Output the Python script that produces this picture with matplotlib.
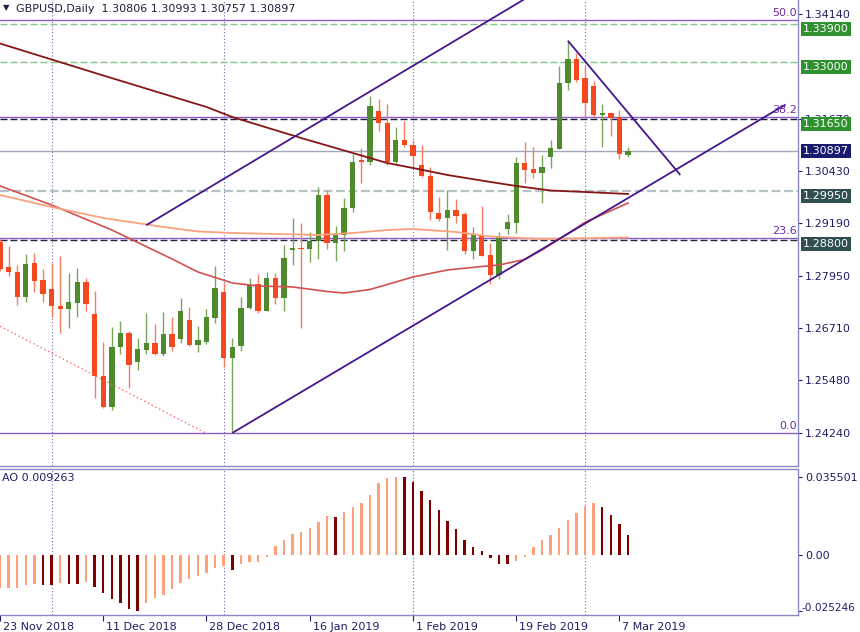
import matplotlib
matplotlib.use('Agg')
import matplotlib.pyplot as plt
import numpy as np
from matplotlib.transforms import blended_transform_factory, ScaledTranslation

# ---------------- data ----------------
opens = [1.2876, 1.2816, 1.2805, 1.2745, 1.2825, 1.2786, 1.2764, 1.2724, 1.2716, 1.2732,
         1.2781, 1.2705, 1.2559, 1.2486, 1.2626, 1.2660, 1.2592, 1.2620, 1.2636, 1.2611,
         1.2657, 1.2645, 1.2691, 1.2632, 1.2640, 1.2696, 1.2756, 1.2602, 1.2630, 1.2720,
         1.2775, 1.2713, 1.2790, 1.2744, 1.2857, 1.2861, 1.2858, 1.2878, 1.2986, 1.2874,
         1.2892, 1.2956, 1.3069, 1.3064, 1.3185, 1.3157, 1.3065, 1.3116, 1.3104, 1.3057,
         1.3032, 1.2943, 1.2931, 1.2952, 1.2941, 1.2854, 1.2892, 1.2845, 1.2797, 1.2905,
         1.2921, 1.3063, 1.3048, 1.3038, 1.3075, 1.3095, 1.3252, 1.3308, 1.3262, 1.3245,
         1.3175, 1.3181, 1.3170, 1.30806]
highs = [1.2882, 1.2866, 1.2821, 1.2847, 1.2850, 1.2811, 1.2826, 1.2842, 1.2801, 1.2813,
         1.2791, 1.2760, 1.2640, 1.2675, 1.2689, 1.2666, 1.2649, 1.2708, 1.2682, 1.2710,
         1.2699, 1.2742, 1.2722, 1.2677, 1.2716, 1.2819, 1.2778, 1.2648, 1.2746, 1.2790,
         1.2800, 1.2805, 1.2801, 1.2868, 1.2933, 1.2919, 1.2900, 1.3006, 1.2997, 1.2913,
         1.2979, 1.3083, 1.3097, 1.3220, 1.3213, 1.3201, 1.3148, 1.3162, 1.3116, 1.3105,
         1.3052, 1.2982, 1.2997, 1.2977, 1.2946, 1.2911, 1.2960, 1.2872, 1.2900, 1.2941,
         1.3075, 1.3112, 1.3099, 1.3081, 1.3116, 1.3290, 1.3351, 1.3323, 1.3290, 1.3256,
         1.3201, 1.3183, 1.3187, 1.30993]
lows = [1.2807, 1.2795, 1.2726, 1.2734, 1.2756, 1.2734, 1.2697, 1.2660, 1.2673, 1.2699,
        1.2711, 1.2507, 1.2483, 1.2478, 1.2611, 1.2530, 1.2573, 1.2611, 1.2608, 1.2606,
        1.2618, 1.2636, 1.2630, 1.2616, 1.2634, 1.2683, 1.2581, 1.2424, 1.2618, 1.2716,
        1.2708, 1.2711, 1.2729, 1.2711, 1.2821, 1.2671, 1.2829, 1.2834, 1.2858, 1.2830,
        1.2855, 1.2945, 1.3014, 1.3057, 1.3138, 1.3057, 1.3061, 1.3099, 1.3049, 1.3028,
        1.2927, 1.2926, 1.2856, 1.2921, 1.2847, 1.2834, 1.2842, 1.2776, 1.2787, 1.2893,
        1.2897, 1.3014, 1.3027, 1.2968, 1.3051, 1.3095, 1.3234, 1.3254, 1.3171, 1.3170,
        1.3099, 1.3126, 1.3071, 1.30757]
closes = [1.2811, 1.2805, 1.2745, 1.2823, 1.2783, 1.2752, 1.2724, 1.2716, 1.2734, 1.2781,
          1.2729, 1.2559, 1.2486, 1.2626, 1.2660, 1.2585, 1.2622, 1.2636, 1.2611, 1.2657,
          1.2628, 1.2711, 1.2632, 1.2643, 1.2697, 1.2767, 1.2602, 1.2626, 1.2719, 1.2774,
          1.2713, 1.2790, 1.2744, 1.2838, 1.2860, 1.2858, 1.2878, 1.2986, 1.2874, 1.2892,
          1.2955, 1.3065, 1.3065, 1.3197, 1.3157, 1.3065, 1.3116, 1.3104, 1.3079, 1.3031,
          1.2947, 1.2929, 1.2952, 1.2937, 1.2854, 1.2892, 1.2843, 1.2797, 1.2888, 1.2923,
          1.3061, 1.3045, 1.3038, 1.3052, 1.3097, 1.3252, 1.3308, 1.3258, 1.3203, 1.3175,
          1.3179, 1.3169, 1.3083, 1.30897]

ao_values = [-0.0150, -0.01485, -0.0148, -0.01364, -0.01318, -0.01364, -0.0137, -0.01288, -0.01318, -0.01325,
             -0.01242, -0.01439, -0.01742, -0.0200, -0.02197, -0.0245, -0.025246, -0.02197, -0.01939, -0.01818,
             -0.01561, -0.01288, -0.01106, -0.00955, -0.00818, -0.00576, -0.00515, -0.00682, -0.00424, -0.00333,
             -0.00303, -0.00106, 0.00424, 0.00682, 0.00939, 0.0103, 0.01242, 0.01515, 0.01773, 0.01727,
             0.01955, 0.02182, 0.02379, 0.02727, 0.03273, 0.0349, 0.035501, 0.0354, 0.03318, 0.02909,
             0.02485, 0.02061, 0.0153, 0.01167, 0.00682, 0.00364, 0.00182, -0.00121, -0.00394, -0.0040,
             -0.00258, -0.00076, 0.00348, 0.00667, 0.00924, 0.01227, 0.01576, 0.01909, 0.02242, 0.02379,
             0.02182, 0.01833, 0.01409, 0.009263]

# moving averages (sampled at bar indices)
ma_long_x = [0, 12, 24, 27, 35, 39, 45, 48, 52, 57, 60, 64, 68, 73]
ma_long_y = [1.33443, 1.32687, 1.31943, 1.31706, 1.3121, 1.30974, 1.30619, 1.30501, 1.30336,
             1.30171, 1.30076, 1.29969, 1.29934, 1.29887]
ma_mid_x = [0, 6, 13, 20, 23, 27, 30, 34, 38, 40, 43, 48, 52, 56, 58, 61, 63, 65, 68, 73]
ma_mid_y = [1.30076, 1.29627, 1.29036, 1.28351, 1.28044, 1.27784, 1.27713, 1.2769, 1.27583, 1.27547,
            1.2763, 1.27925, 1.28091, 1.28174, 1.28209, 1.28339, 1.28563, 1.28823, 1.29218, 1.29674]
ma_short_x = [0, 6, 12, 19, 23, 27, 32, 37, 41, 45, 48, 53, 57, 63, 73]
ma_short_y = [1.29863, 1.2958, 1.2932, 1.29107, 1.29001, 1.28965, 1.28942, 1.2892, 1.28965, 1.29036,
              1.2906, 1.28989, 1.28883, 1.28823, 1.28859]

# drawn objects
channel_upper = ([17, 62], [1.29149, 1.34618])
channel_lower = ([27, 91.3], [1.2424, 1.3200])
down_trend = ([66, 79.07], [1.33509, 1.30336])
dotted_trend = ([0, 24], [1.26761, 1.24228])
fib_low, fib_high = 1.2424, 1.4377
fib_levels = [0.0, 23.6, 38.2, 50.0]
hlines_green = [1.3390, 1.3300]
hline_res = 1.3165
hline_gray = 1.2995
hline_sup = 1.2880
current_price = 1.30897
separators = [6, 26, 48, 68]

date_pos = [0, 12, 24, 36, 48, 60, 72]
date_labels = ["23 Nov 2018", "11 Dec 2018", "28 Dec 2018", "16 Jan 2019",
               "1 Feb 2019", "19 Feb 2019", "7 Mar 2019"]
price_ticks = [1.3414, 1.3167, 1.3043, 1.2919, 1.2795, 1.2671, 1.2548, 1.2424]
ao_ticks = [0.035501, 0.0, -0.025246]
ao_tick_labels = ["0.035501", "0.00", "-0.025246"]
header = "GBPUSD,Daily  1.30806 1.30993 1.30757 1.30897"
ao_label = "AO 0.009263"

# ---------------- figure ----------------
plt.rcParams['font.family'] = ['DejaVu Sans']
fig = plt.figure(figsize=(8.6, 6.32), dpi=100)
fig.patch.set_facecolor('white')

def fx(px):
    return px / 860.0

def fy(py):
    return 1 - py / 632.0

ax = fig.add_axes([0, fy(466), fx(798), 466 / 632.0])
ao = fig.add_axes([0, fy(615), fx(798), (615 - 469) / 632.0], sharex=ax)

axis_col = '#8a8ac4'
txt_col = '#1e1e66'

for a in (ax, ao):
    a.set_facecolor('white')
    a.spines['left'].set_visible(False)
    for s in ('top', 'bottom', 'right'):
        a.spines[s].set_color(axis_col)
        a.spines[s].set_linewidth(1.0)
    for xs in separators:
        a.axvline(xs, color='#6a6aaa', lw=0.8, ls=(0, (1, 2)), zorder=1)
ax.spines['top'].set_visible(False)

ax.set_xlim(0.232, 92.75)
ax.set_ylim(1.23459, 1.34471)
ao.set_ylim(-0.02727, 0.03909)

# price axis
ax.yaxis.tick_right()
ax.set_yticks(price_ticks)
ax.set_yticklabels(['%.5f' % t for t in price_ticks])
ax.tick_params(axis='y', direction='out', length=3, width=0.8, colors=txt_col,
               labelsize=8, pad=2)
ax.tick_params(axis='x', bottom=False, labelbottom=False)

# AO axis
ao.yaxis.tick_right()
ao.set_yticks(ao_ticks)
ao.set_yticklabels(ao_tick_labels)
ao.tick_params(axis='y', direction='out', length=3, width=0.8, colors=txt_col,
               labelsize=8, pad=2)
ylabs = ao.get_yticklabels()
ylabs[-1].set_fontsize(7.6)
ylabs[-1].set_transform(ylabs[-1].get_transform() + ScaledTranslation(-3 / 100, 4 / 100, fig.dpi_scale_trans))
ao.set_xticks(date_pos)
ao.set_xticklabels(date_labels)
ao.tick_params(axis='x', direction='out', length=4, width=0.8, colors=txt_col,
               labelsize=8, pad=1)
for lab in ao.get_xticklabels():
    lab.set_ha('left')
    lab.set_transform(lab.get_transform() + ScaledTranslation(3 / 100, 0, fig.dpi_scale_trans))

# ---------------- horizontal objects ----------------
fib_prices = [fib_low + lv / 100.0 * (fib_high - fib_low) for lv in fib_levels]
fib_col = '#8c5cc8'
for lv, fp in zip(fib_levels, fib_prices):
    ax.axhline(fp, color=fib_col, lw=1.0, zorder=1.5)
    ax.annotate('%.1f' % lv, xy=(1, fp), xycoords=blended_transform_factory(ax.transAxes, ax.transData),
                xytext=(-1, 2), textcoords='offset pixels', ha='right', va='bottom',
                color='#6a2c9c', fontsize=8, zorder=6)

for hp in hlines_green:
    ax.axhline(hp, color='#86c686', lw=1.0, dashes=(5, 2.2), zorder=1.6)
ax.axhline(hline_res, color='#1c1c3c', lw=1.0, dashes=(5, 2.2), zorder=1.6)
ax.axhline(hline_sup, color='#26263e', lw=1.0, dashes=(5, 2.2), zorder=1.6)
ax.axhline(hline_gray, color='#b6c2c6', lw=1.6, dashes=(4, 1.6), zorder=1.6)
ax.axhline(current_price, color='#a2a8ba', lw=1.0, zorder=1.6)

# ---------------- candles ----------------
o = np.array(opens); h = np.array(highs); l = np.array(lows); c = np.array(closes)
idx = np.arange(len(o))
up = c >= o
dn = ~up
bull_body, bear_body = '#4f8b2d', '#f4491f'
bull_wick, bear_wick = '#78a65c', '#f47d62'
ax.vlines(idx[up], l[up], h[up], color=bull_wick, lw=1.0, zorder=3)
ax.vlines(idx[dn], l[dn], h[dn], color=bear_wick, lw=1.0, zorder=3)
bb = np.minimum(o, c)
bh = np.maximum(np.abs(c - o), 0.00035)
ax.bar(idx[up], bh[up], bottom=bb[up], width=0.62, color=bull_body, lw=0, zorder=4)
ax.bar(idx[dn], bh[dn], bottom=bb[dn], width=0.62, color=bear_body, lw=0, zorder=4)

# ---------------- moving averages ----------------
ax.plot(ma_long_x, ma_long_y, color='#861616', lw=1.3, zorder=5)
ax.plot(ma_mid_x, ma_mid_y, color='#d25050', lw=1.2, zorder=5)
ax.plot(ma_short_x, ma_short_y, color='#f9a27e', lw=1.3, zorder=5)

# ---------------- trend lines ----------------
tl_col = '#45168e'
for xs, ys in (channel_upper, channel_lower, down_trend):
    ax.plot(xs, ys, color=tl_col, lw=1.3, zorder=5.5, solid_capstyle='butt')
ax.plot(dotted_trend[0], dotted_trend[1], color='#ff6a6a', lw=1.0, ls=(0, (1, 2)), zorder=5)

# ---------------- right-side price boxes ----------------
btr = blended_transform_factory(ax.transAxes, ax.transData)
def price_box(p, fc, dy):
    ax.annotate('%.5f' % p, xy=(1, p), xycoords=btr, xytext=(5, dy), textcoords='offset pixels',
                ha='left', va='center', color='white', fontsize=8, annotation_clip=False,
                bbox=dict(boxstyle='square,pad=0.18', fc=fc, ec=fc, lw=0), zorder=10)

for hp in hlines_green:
    price_box(hp, '#2f912f', -4.5)
price_box(hline_res, '#2f912f', -4.5)
price_box(hline_gray, '#2f4f4f', -4.5)
price_box(hline_sup, '#2f4f4f', -4.5)
price_box(current_price, '#1a1a6e', 0)

# ---------------- AO histogram ----------------
ao_arr = np.array(ao_values)
ao_cols = ['#ffa07a' if (i == 0 or ao_arr[i] > ao_arr[i - 1]) else '#800000' for i in range(len(ao_arr))]
ao.bar(idx, ao_arr, width=0.28, color=ao_cols, lw=0, zorder=3)
ao.text(0.003, 1 - 9 / 146.0, ao_label, transform=ao.transAxes, ha='left', va='center',
        fontsize=8, color=txt_col)

# ---------------- header ----------------
fig.text(fx(3), fy(8), '\u25bc', fontsize=6, color='#202040', ha='left', va='center')
fig.text(fx(16), fy(9), header, fontsize=8, color='#202040', ha='left', va='center')

fig.savefig('out.png', dpi=100, facecolor='white')
